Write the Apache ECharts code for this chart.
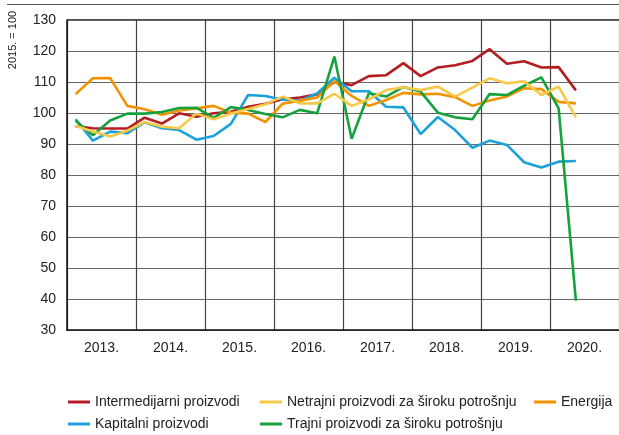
<!DOCTYPE html>
<html>
<head>
<meta charset="UTF-8">
<title>proizvodnja</title>
<script src="https://cdn.jsdelivr.net/npm/echarts@6/dist/echarts.min.js"></script>
<style>
  html, body { margin: 0; padding: 0; background: #fff; }
  #chart { width: 619px; height: 435px; }
</style>
</head>
<body>
<div id="chart"></div>
<script type="text/javascript">
// kvartali 2013. - 2020. (podaci do 2. kvartala 2020.)
var years = ['2013.', '2014.', '2015.', '2016.', '2017.', '2018.', '2019.', '2020.'];
var quarters = [];
for (var y = 2013; y <= 2020; y++) {
    for (var q = 1; q <= 4; q++) quarters.push(y + 'Q' + q);
}

var intermedijarni = [95.7, 95.1, 95.0, 95.0, 98.5, 96.6, 99.9, 98.8, 99.9, 100.4, 102.0, 103.0, 104.4, 105.0, 106.0, 110.0,
    109.0, 111.9, 112.2, 116.1, 111.9, 114.7, 115.4, 116.8, 120.6, 115.9, 116.7, 114.7, 114.8, 107.3];
var netrajni = [95.8, 94.0, 92.4, 94.3, 97.1, 95.6, 95.1, 99.8, 98.0, 99.8, 101.3, 102.8, 105.3, 103.1, 103.1, 106.2,
    102.3, 104.4, 107.4, 108.3, 107.4, 108.5, 105.3, 108.2, 111.2, 109.6, 110.2, 105.8, 108.5, 98.6];
var energija = [106.1, 111.2, 111.3, 102.3, 101.2, 99.4, 100.8, 101.5, 102.3, 100.1, 99.8, 97.1, 103.0, 104.0, 105.0, 110.3,
    105.5, 102.3, 104.2, 106.5, 106.0, 106.2, 105.1, 102.3, 104.0, 105.3, 108.0, 107.7, 103.6, 103.1];
var kapitalni = [98.0, 91.1, 94.0, 93.5, 97.0, 95.1, 94.5, 91.4, 92.6, 96.5, 105.8, 105.5, 104.3, 104.0, 106.3, 111.4,
    107.0, 107.0, 102.0, 101.8, 93.2, 98.7, 94.5, 88.8, 91.1, 89.7, 84.1, 82.4, 84.3, 84.5];
var trajni = [97.5, 92.8, 97.6, 99.8, 99.8, 100.3, 101.6, 101.7, 98.4, 101.9, 101.0, 99.7, 98.6, 101.0, 99.9, 118.2,
    91.7, 106.4, 105.3, 108.4, 106.9, 100.1, 98.6, 98.0, 106.1, 105.8, 108.8, 111.5, 101.5, 39.5];

var names = ['Intermedijarni proizvodi', 'Netrajni proizvodi za široku potrošnju', 'Energija',
    'Kapitalni proizvodi', 'Trajni proizvodi za široku potrošnju'];

var font = '"Liberation Sans", Arial, sans-serif';

function line(name, data, color) {
    return {
        name: name,
        type: 'line',
        xAxisIndex: 0,
        data: data,
        symbol: 'none',
        lineStyle: { width: 2.6, color: color },
        itemStyle: { color: color }
    };
}

// jedna legenda po stavci, da stupci budu poravnati
function legend(left, top, name) {
    return {
        left: left,
        top: top,
        padding: 0,
        itemWidth: 22,
        itemHeight: 3,
        itemGap: 5,
        icon: 'rect',
        data: [name],
        textStyle: { fontFamily: font, fontSize: 14, lineHeight: 16, color: '#222' }
    };
}

var myChart = echarts.init(document.getElementById('chart'));
var option = {
    animation: false,
    grid: { left: 67, right: 0, top: 20, bottom: 105 },
    legend: [
        legend(68, 394, names[0]),
        legend(260, 394, names[1]),
        legend(534, 394, names[2]),
        legend(68, 416, names[3]),
        legend(260, 416, names[4])
    ],
    xAxis: [
        {
            type: 'category',
            data: quarters,
            boundaryGap: true,
            show: false
        },
        {
            type: 'category',
            data: years,
            position: 'bottom',
            boundaryGap: true,
            axisLine: { lineStyle: { color: '#111', width: 1.5 } },
            axisTick: { show: false },
            axisLabel: { fontFamily: font, fontSize: 14, color: '#222', margin: 11 },
            splitLine: { show: true, lineStyle: { color: '#444', width: 1.2 } }
        }
    ],
    yAxis: {
        type: 'value',
        min: 30,
        max: 130,
        interval: 10,
        axisLine: { show: true, lineStyle: { color: '#111', width: 1.5 } },
        axisTick: { show: false },
        axisLabel: { fontFamily: font, fontSize: 14, color: '#222', margin: 11 },
        splitLine: { lineStyle: { color: '#666', width: 1.2 } }
    },
    graphic: [
        {
            type: 'line',
            shape: { x1: 7, y1: 4.5, x2: 619, y2: 4.5 },
            style: { stroke: '#555', lineWidth: 1 }
        },
        {
            type: 'line',
            shape: { x1: 67, y1: 20, x2: 619, y2: 20 },
            style: { stroke: '#111', lineWidth: 1.5 }
        },
        {
            type: 'text',
            x: 13,
            y: 40,
            rotation: Math.PI / 2,
            style: {
                text: '2015. = 100',
                fontFamily: font,
                fontSize: 11,
                fill: '#222',
                textAlign: 'center',
                textVerticalAlign: 'middle'
            }
        }
    ],
    series: [
        line(names[0], intermedijarni, '#b41d22'),
        line(names[3], kapitalni, '#1ba1dc'),
        line(names[2], energija, '#f39200'),
        line(names[4], trajni, '#15a23d'),
        line(names[1], netrajni, '#f8c848')
    ]
};
myChart.setOption(option);
</script>
</body>
</html>
